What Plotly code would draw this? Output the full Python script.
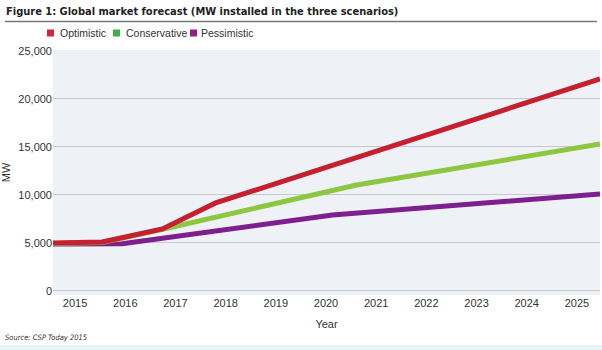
import plotly.graph_objects as go

# Data (x positions are fractional years where the lines bend)
opt_x = [2014.56, 2015.54, 2016.74, 2017.80, 2025.46]
opt_y = [5000, 5100, 6460, 9170, 22080]
con_x = [2014.56, 2015.54, 2016.68, 2020.61, 2025.46]
con_y = [4950, 5050, 6350, 11040, 15300]
pes_x = [2014.56, 2015.94, 2020.13, 2025.46]
pes_y = [4900, 4920, 7920, 10100]

years = list(range(2015, 2026))
year_labels = [str(y) for y in years]
y_ticks = [0, 5000, 10000, 15000, 20000, 25000]
y_labels = ["0", "5,000", "10,000", "15,000", "20,000", "25,000"]

legend_names = ["Optimistic", "Conservative", "Pessimistic"]
legend_colors = ["#d6213a", "#3fae49", "#9c1a80"]

RED = "#c61f2f"
GREEN = "#8dc63f"
PURPLE = "#7d1f8c"

W, H = 602, 350
L, R, T, B = 53, 2, 50, 55
PW, PH = W - L - R, H - T - B

def px(xpix):
    return (xpix - L) / PW

def py(ypix):
    return (H - B - ypix) / PH

fig = go.Figure()
for x, y, c, n in [(pes_x, pes_y, PURPLE, "Pessimistic"),
                   (con_x, con_y, GREEN, "Conservative"),
                   (opt_x, opt_y, RED, "Optimistic")]:
    fig.add_trace(go.Scatter(x=x, y=y, mode="lines", name=n,
                             line=dict(color=c, width=5), showlegend=False))

FONT = "Liberation Sans"
NARROW = "DejaVu Sans Condensed, sans-serif"
fig.update_layout(
    width=W, height=H,
    margin=dict(l=L, r=R, t=T, b=B),
    paper_bgcolor="white",
    plot_bgcolor="#eef2f6",
    font=dict(family=FONT, size=11, color="#333333"),
    showlegend=False,
)
fig.update_xaxes(range=[2014.56, 2025.46], tickvals=years, ticktext=year_labels,
                 showgrid=False, zeroline=False, showline=False, ticks="",
                 tickfont=dict(size=11, color="#333333"),
                 title=dict(text="Year", font=dict(size=11, color="#333333"), standoff=12))
fig.update_yaxes(range=[-420, 25100], tickvals=y_ticks, ticktext=y_labels,
                 showgrid=True, gridcolor="#c6cace", gridwidth=1, zeroline=False,
                 showline=False, ticks="", tickfont=dict(size=11, color="#333333"),
                 title=dict(text="MW", font=dict(size=11, color="#333333"), standoff=6))

# bottom light band
fig.add_shape(type="rect", xref="paper", yref="paper", x0=px(0), x1=px(W),
              y0=py(H), y1=py(345), line=dict(width=0), fillcolor="#e9f4f8", layer="below")

# title and rule
fig.add_annotation(xref="paper", yref="paper", x=px(4), y=py(12),
                   xanchor="left", yanchor="middle", showarrow=False,
                   text="<b>Figure 1: Global market forecast (MW installed in the three scenarios)</b>",
                   font=dict(family=NARROW, size=11, color="#222222"))
fig.add_shape(type="line", xref="paper", yref="paper", x0=px(5), x1=px(597),
              y0=py(21.5), y1=py(21.5), line=dict(color="#777777", width=1.5))

# legend (squares + labels)
sq_x = [47, 113, 190]
txt_x = [58, 124, 199]
for sx, tx, name, col in zip(sq_x, txt_x, legend_names, legend_colors):
    fig.add_shape(type="rect", xref="paper", yref="paper",
                  x0=px(sx), x1=px(sx + 7), y0=py(36.5), y1=py(29.5),
                  line=dict(width=0), fillcolor=col)
    fig.add_annotation(xref="paper", yref="paper", x=px(tx), y=py(33),
                       xanchor="left", yanchor="middle", showarrow=False,
                       text=name, font=dict(size=10.5, color="#333333"))

# source
fig.add_annotation(xref="paper", yref="paper", x=px(3), y=py(337),
                   xanchor="left", yanchor="middle", showarrow=False,
                   text="<i>Source: CSP Today 2015</i>",
                   font=dict(family=NARROW, size=7.5, color="#333333"))

fig.write_html("out.html")
